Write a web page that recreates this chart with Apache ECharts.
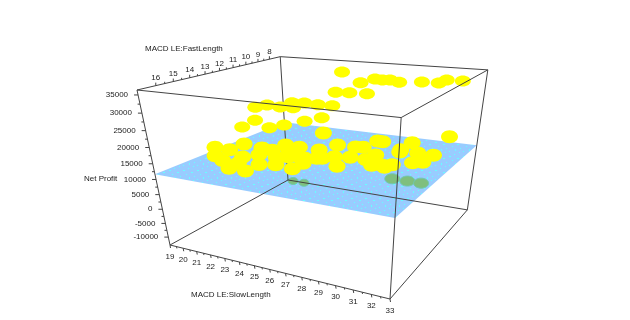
<!DOCTYPE html>
<html>
<head>
<meta charset="utf-8">
<script src="https://cdn.jsdelivr.net/npm/echarts@6/dist/echarts.min.js"></script>
<style>html,body{margin:0;background:#fff}#main{width:630px;height:320px}</style>
</head>
<body>
<div id="main"></div>
<script>
// each point is [slow length, fast length, net profit]
const highPoints = [[25.0,9.0,35000],[27.6,11.2,35000],[27.8,10.1,35000],[28.3,10.2,35000],[28.7,10.1,35000],[29.4,10.4,35000],[30.5,10.0,35000],[31.4,9.9,35000],[31.5,9.1,35000],[32.4,9.1,35000],[27.6,13.4,35000],[28.3,13.3,35000],[29.2,13.2,35000]];
const midPoints = [[21.4,12.1,26000],[21.7,11.5,26000],[22.7,11.6,26000],[22.7,10.6,26000],[23.5,11.5,26000],[23.4,10.4,26000],[24.4,10.5,26000],[25.3,10.4,26000]];
const lowPoints = [[21.2,12.0,21500],[21.5,13.3,21500],[23.0,12.9,21500],[23.4,12.2,21500],[24.0,11.2,21500],[24.5,10.3,21500]];
const mainPoints = [
  [20.2,14.1,15500],[21.9,15.7,17000],[22.5,15.3,18500],[21.3,13.1,15500],[23.9,16.8,17000],[25.4,17.3,18500],
  [22.8,14.8,15500],[23.9,14.8,17000],[24.6,14.6,18500],[25.2,15.1,15500],[26.8,15.8,17000],[24.7,13.7,18500],
  [24.6,12.5,15500],[26.4,14.4,17000],[26.0,15.1,18500],[25.9,12.5,15500],[26.8,12.1,17000],[28.3,12.7,18500],
  [27.9,11.3,15500],[28.5,10.8,17000],[27.7,14.7,18500],[28.2,14.2,15500],[28.5,13.5,17000],[29.9,13.4,18500],
  [30.2,13.3,15500],[31.0,13.7,17000],[30.7,12.3,18500],[31.6,8.0,15500],[30.4,10.4,17000],[30.8,12.6,18500],
  [31.1,11.1,15500],[32.3,11.8,17000],[32.5,13.5,18500],[31.5,12.5,15500],[30.8,14.1,17000],[29.2,11.5,18500],
  [24.3,9.9,15500],
  [22.8,16.1,17000],[23.8,16.1,17000],[24.9,15.9,17000],[23.3,13.9,17000],[25.0,14.8,17000],[24.8,13.6,17000],
  [26.8,15.0,17000],[27.0,14.2,17000],[27.7,13.7,17000],[29.4,13.5,17000],[30.1,14.1,17000],[26.0,14.3,17000]
];
const lossPointsNear = [[30.1,11.9,8000],[31.0,11.9,8000],[31.8,11.9,8000]];
const lossPointsFar = [[25.3,14.0,8000],[26.0,14.0,8000]];

const slowRange = [19, 33];
const fastRange = [17, 7];
const profitRange = [-12960, 36330];
const planeProfit = 11700;

const slowTicks = [19,20,21,22,23,24,25,26,27,28,29,30,31,32,33];
const fastTicks = [16,15,14,13,12,11,10,9,8];
const profitTicks = [-10000,-5000,0,5000,10000,15000,20000,25000,30000,35000];

// camera of the box, there is no 3d in plain echarts
const origin = [170, 245], axisU = [153.7, 3.17], axisV = [204.4, -11], axisW = [-54.92, -169.4];
const persU = -0.17, persV = 0.3, persW = -0.16;

function project(slow, fast, profit) {
  const u = (slow - slowRange[0]) / (slowRange[1] - slowRange[0]);
  const v = (fast - fastRange[0]) / (fastRange[1] - fastRange[0]);
  const w = (profit - profitRange[0]) / (profitRange[1] - profitRange[0]);
  const d = 1 + persU * u + persV * v + persW * w;
  return [
    (origin[0] + axisU[0] * u + axisV[0] * v + axisW[0] * w) / d,
    (origin[1] + axisU[1] * u + axisV[1] * v + axisW[1] * w) / d
  ];
}

const FONT = '8px "Liberation Sans"';
const TEXT_COLOR = '#222';
const LINE_COLOR = '#444';

function markSeries(data, color, stroke, rx, ry, z) {
  return {
    type: 'custom', data: data, z: z, silent: true, clip: false,
    renderItem: function (params, api) {
      const c = api.coord(project(api.value(0), api.value(1), api.value(2)));
      return { type: 'ellipse', shape: { cx: c[0], cy: c[1], rx: rx, ry: ry },
        style: { fill: color, stroke: stroke, lineWidth: stroke ? 1 : 0 } };
    }
  };
}

// edges are pairs of box corners, 0/1 = low/high end of slow, fast, profit
function corner(c) {
  return project(slowRange[c[0]], fastRange[c[1]], profitRange[c[2]]);
}
function edgeSeries(edges, z) {
  return {
    type: 'custom', data: edges.map(function (e, i) { return [i]; }), z: z, silent: true, clip: false,
    renderItem: function (params, api) {
      const e = edges[params.dataIndex];
      const a = api.coord(corner(e[0])), b = api.coord(corner(e[1]));
      return { type: 'line', shape: { x1: a[0], y1: a[1], x2: b[0], y2: b[1] },
        style: { stroke: LINE_COLOR, lineWidth: 1 } };
    }
  };
}

function tickSeries(ticks, step, at, dir, labelAt, align) {
  return {
    type: 'custom', data: ticks.map(function (t) { return [t]; }), z: 6, silent: true, clip: false,
    renderItem: function (params, api) {
      const t = api.value(0);
      const p = api.coord(at(t)), m = api.coord(at(t + step / 2));
      const kids = [
        { type: 'line', shape: { x1: p[0], y1: p[1], x2: p[0] + dir[0], y2: p[1] + dir[1] },
          style: { stroke: LINE_COLOR, lineWidth: 1 } },
        { type: 'text', style: { text: String(t), x: p[0] + labelAt[0], y: p[1] + labelAt[1],
          font: FONT, fill: TEXT_COLOR, align: align, verticalAlign: 'middle' } }
      ];
      if (params.dataIndex < ticks.length - 1) {
        kids.push({ type: 'line', shape: { x1: m[0], y1: m[1], x2: m[0] + dir[0] * 0.6, y2: m[1] + dir[1] * 0.6 },
          style: { stroke: LINE_COLOR, lineWidth: 1 } });
      }
      return { type: 'group', children: kids };
    }
  };
}

// blue dithered look of the plane
const speckle = document.createElement('canvas');
speckle.width = speckle.height = 14;
const sctx = speckle.getContext('2d');
sctx.fillStyle = '#99ccff';
sctx.fillRect(0, 0, 14, 14);
sctx.fillStyle = '#66ffff';
[[1,2],[2,2],[6,0],[9,4],[10,4],[4,6],[12,8],[7,9],[7,10],[1,11],[11,12]].forEach(function (d) {
  sctx.fillRect(d[0], d[1], 1, 1);
});

const planeSeries = {
  type: 'custom', data: [[planeProfit]], z: 1, silent: true, clip: false,
  renderItem: function (params, api) {
    const h = api.value(0);
    const pts = [[0,0],[1,0],[1,1],[0,1]].map(function (c) {
      return api.coord(project(slowRange[c[0]], fastRange[c[1]], h));
    });
    return { type: 'polygon', shape: { points: pts }, style: { fill: { image: speckle, repeat: 'repeat' } } };
  }
};

const backEdges = [
  [[0,0,0],[0,1,0]], [[0,1,0],[1,1,0]], [[0,1,0],[0,1,1]]
];
const frontEdges = [
  [[0,0,0],[1,0,0]], [[1,0,0],[1,1,0]],
  [[0,0,0],[0,0,1]], [[1,0,0],[1,0,1]], [[1,1,0],[1,1,1]],
  [[0,0,1],[1,0,1]], [[1,0,1],[1,1,1]], [[1,1,1],[0,1,1]], [[0,1,1],[0,0,1]]
];

const chart = echarts.init(document.getElementById('main'));
chart.setOption({
  animation: false,
  backgroundColor: '#fff',
  grid: { left: 0, right: 0, top: 0, bottom: 0 },
  xAxis: { type: 'value', min: 0, max: 630, show: false },
  yAxis: { type: 'value', min: 0, max: 320, inverse: true, show: false },
  graphic: [
    { type: 'text', left: 145, top: 45, style: { text: 'MACD LE:FastLength', font: FONT, fill: TEXT_COLOR } },
    { type: 'text', left: 191, top: 291, style: { text: 'MACD LE:SlowLength', font: FONT, fill: TEXT_COLOR } },
    { type: 'text', left: 84, top: 175, style: { text: 'Net Profit', font: FONT, fill: TEXT_COLOR } }
  ],
  series: [
    planeSeries,
    markSeries(lossPointsNear, '#7fbf7f', '#70c8b0', 7.5, 5, 2),
    markSeries(lossPointsFar, '#7fbf7f', '#70c8b0', 5, 3.5, 2),
    edgeSeries(backEdges, 3),
    markSeries(highPoints, '#ffff00', null, 8, 5.5, 4),
    markSeries(midPoints, '#ffff00', null, 8, 5.5, 4),
    markSeries(lowPoints, '#ffff00', null, 8, 5.5, 4),
    markSeries(mainPoints, '#ffff00', null, 8.5, 6.5, 4),
    edgeSeries(frontEdges, 5),
    tickSeries(slowTicks, 1, function (t) { return project(t, fastRange[0], profitRange[0]); }, [0.5, 3], [0, 11.5], 'center'),
    tickSeries(fastTicks, -1, function (t) { return project(slowRange[0], t, profitRange[1]); }, [0, -3], [0, -7.5], 'center'),
    tickSeries(profitTicks, 5000, function (t) { return project(slowRange[0], fastRange[0], t); }, [-4, 0], [-10, 0], 'right')
  ]
});
</script>
</body>
</html>
